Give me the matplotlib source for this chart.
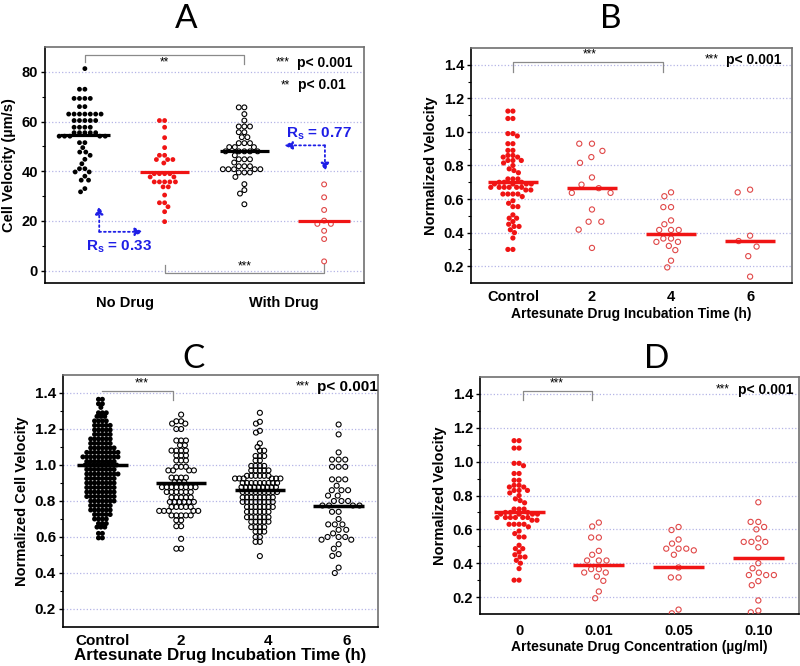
import numpy as np
import matplotlib
matplotlib.use('Agg')
import matplotlib.pyplot as plt

plt.rcParams['font.family'] = ['Liberation Sans', 'DejaVu Sans']

# ---- data (levels = value of a row, counts = dots in that row) ----
# panel A: cell velocity (um/s)
a_nodrug_h_lv = [81.3, 73.0, 69.3, 66.0, 63.0, 60.4, 57.7, 55.5, 54.1, 51.5, 49.5, 47.7,
                 46.4, 44.8, 43.0, 41.0, 39.7, 38.0, 36.4, 33.0, 31.7]
a_nodrug_h_ct = [1, 2, 4, 2, 7, 5, 4, 5, 5, 2, 1, 2, 1, 1, 1, 2, 2, 1, 2, 1, 1]
a_nodrug_i_lv = [60.4, 57.7, 53.5, 49.5, 46.4, 44.7, 43.3, 39.0, 37.7, 35.7, 33.7, 30.4,
                 27.3, 25.7, 23.7, 19.7]
a_nodrug_i_ct = [2, 1, 1, 1, 2, 3, 1, 4, 2, 5, 2, 1, 2, 1, 1, 1]
a_drug_h_lv = [65.7, 63.0, 60.4, 58.0, 55.7, 53.7, 51.3, 49.7, 48.0, 46.4, 44.8, 43.5,
               42.0, 40.8, 39.5, 37.7, 34.8, 32.4, 31.0, 26.7]
a_drug_h_ct = [2, 1, 1, 3, 2, 2, 3, 3, 5, 1, 3, 1, 3, 5, 3, 1, 1, 1, 1, 1]
a_drug_i_lv = [34.7, 29.5, 24.4, 20.1, 18.8, 16.0, 12.7, 3.7]
a_drug_i_ct = [1, 1, 1, 1, 2, 1, 1, 1]
a_medians = [54.6, 39.8, 48.0, 20.0]

# control group shared by panels B and D (normalized velocity)
ctrl_lv = [1.124, 1.08, 0.99, 0.976, 0.93, 0.89, 0.86, 0.85, 0.83, 0.815, 0.80, 0.78,
           0.77, 0.757, 0.72, 0.70, 0.69, 0.67, 0.654, 0.63, 0.615, 0.59, 0.575, 0.555,
           0.506, 0.486, 0.466, 0.45, 0.437, 0.417, 0.40, 0.368, 0.30]
ctrl_ct = [2, 2, 2, 1, 2, 2, 2, 2, 3, 1, 1, 1, 1, 1, 3, 3, 4, 6, 2, 4, 1, 1, 1, 2, 1, 2,
           1, 1, 2, 1, 1, 1, 2]

# panel B: incubation time
b_labels = ['Control', '2', '4', '6']
b_2h_lv = [0.93, 0.887, 0.85, 0.816, 0.729, 0.686, 0.665, 0.637, 0.538, 0.465, 0.418, 0.309]
b_2h_ct = [2, 1, 1, 1, 1, 1, 1, 2, 1, 2, 1, 1]
b_4h_lv = [0.64, 0.617, 0.552, 0.473, 0.45, 0.416, 0.365, 0.345, 0.321, 0.296, 0.233, 0.193]
b_4h_ct = [1, 1, 2, 1, 1, 3, 2, 2, 1, 1, 1, 1]
b_6h_lv = [0.656, 0.64, 0.382, 0.35, 0.317, 0.26, 0.138]
b_6h_ct = [1, 1, 1, 1, 1, 1, 1]
b_medians = [0.70, 0.665, 0.39, 0.35]

# panel C: normalized cell velocity vs incubation time
c_labels = ['Control', '2', '4', '6']
c_ctrl_lv = [1.365, 1.34, 1.32, 1.29, 1.27, 1.245, 1.22, 1.195, 1.17, 1.145, 1.12, 1.095,
             1.07, 1.045, 1.02, 1.0, 0.975, 0.95, 0.925, 0.90, 0.875, 0.85, 0.825, 0.80,
             0.775, 0.75, 0.725, 0.70, 0.675, 0.655, 0.62, 0.595]
c_ctrl_ct = [2, 2, 1, 3, 3, 4, 5, 5, 5, 6, 6, 7, 9, 10, 8, 9, 8, 9, 8, 8, 8, 8, 8, 7,
             6, 6, 5, 4, 3, 3, 2, 2]
c_2h_lv = [1.28, 1.243, 1.23, 1.2, 1.136, 1.11, 1.08, 1.053, 1.025, 0.99, 0.97, 0.93,
           0.905, 0.877, 0.85, 0.82, 0.795, 0.767, 0.745, 0.72, 0.693, 0.66, 0.59, 0.535]
c_2h_ct = [1, 2, 2, 2, 3, 2, 4, 3, 3, 3, 4, 4, 3, 8, 6, 5, 6, 5, 5, 5, 2, 2, 1, 2]
c_4h_lv = [1.29, 1.24, 1.23, 1.19, 1.18, 1.12, 1.10, 1.08, 1.05, 1.025, 0.995, 0.97, 0.94,
           0.925, 0.90, 0.877, 0.85, 0.82, 0.795, 0.767, 0.74, 0.71, 0.685, 0.655, 0.63,
           0.60, 0.573, 0.494]
c_4h_ct = [1, 1, 1, 1, 1, 1, 1, 2, 3, 2, 4, 5, 6, 6, 9, 9, 9, 8, 8, 7, 6, 6, 5, 4, 3,
           2, 2, 1]
c_6h_lv = [1.225, 1.17, 1.07, 1.03, 0.99, 0.92, 0.885, 0.86, 0.83, 0.80, 0.775, 0.74,
           0.70, 0.67, 0.64, 0.62, 0.60, 0.585, 0.56, 0.535, 0.505, 0.495, 0.43, 0.40]
c_6h_ct = [1, 1, 1, 3, 3, 3, 1, 3, 2, 3, 4, 2, 1, 3, 2, 1, 3, 2, 1, 1, 1, 1, 1, 1]
c_medians = [1.0, 0.90, 0.862, 0.775]

# panel D: drug concentration
d_labels = ['0', '0.01', '0.05', '0.10']
d_005_lv = [0.614, 0.596, 0.54, 0.516, 0.486, 0.476, 0.45, 0.375, 0.316, 0.126, 0.104]
d_005_ct = [1, 1, 1, 1, 3, 1, 1, 1, 2, 1, 1]
d_010_lv = [0.76, 0.644, 0.614, 0.60, 0.546, 0.526, 0.494, 0.40, 0.37, 0.344, 0.33,
            0.294, 0.27, 0.18, 0.12, 0.11]
d_010_ct = [1, 2, 1, 1, 1, 3, 1, 1, 1, 1, 3, 1, 1, 1, 1, 1]
d_medians = [0.70, 0.39, 0.375, 0.43]

RED = '#f01414'
RED_OPEN = '#e04848'
BLUE = '#1e1ee6'
GRID = '#b4b4e6'
BRK = '#8a8a8a'

fig = plt.figure(figsize=(8, 6.66), dpi=100)


def px_axes(l, t, r, b):
    return fig.add_axes([l / 800, 1 - b / 666, (r - l) / 800, (b - t) / 666])


def style(ax, ylim, major, minor, fs=10.5):
    ax.set_xlim(0.5, 4.5)
    ax.set_ylim(*ylim)
    ax.set_yticks(major)
    ax.set_yticks(minor, minor=True)
    ax.yaxis.grid(True, color=GRID, ls=':', lw=0.9)
    ax.set_axisbelow(True)
    ax.tick_params(axis='y', which='major', length=3, width=1, pad=2, labelsize=fs)
    ax.tick_params(axis='y', which='minor', length=2, width=0.8)
    ax.tick_params(axis='x', length=0, labelsize=fs)
    for lab in ax.get_yticklabels():
        lab.set_fontweight('bold')
    for s in ['left', 'bottom']:
        ax.spines[s].set_color('black')
        ax.spines[s].set_linewidth(1.2)
    for s in ['top', 'right']:
        ax.spines[s].set_color('#707070')
        ax.spines[s].set_linewidth(1.2)


def swarm(ax, xc, vals, d):
    # greedy beeswarm in pixel space
    pts = ax.transData.transform(np.column_stack([np.full(len(vals), xc), vals]))
    ys = pts[:, 1]
    offs = np.zeros(len(vals))
    placed = []
    for i in np.argsort(-ys, kind='stable'):
        y = ys[i]
        near = [(px, py) for px, py in placed if abs(py - y) < d]
        cands = [0.0]
        for px, py in near:
            dx = np.sqrt(d ** 2 - (py - y) ** 2)
            cands += [px + dx, px - dx]
        cands.sort(key=lambda c: (round(abs(c), 6), c))
        for c in cands:
            if all((c - px) ** 2 + (y - py) ** 2 >= d ** 2 - 1e-6 for px, py in near):
                offs[i] = c
                break
        placed.append((offs[i], y))
    back = ax.transData.inverted().transform(np.column_stack([pts[:, 0] + offs, ys]))
    return back[:, 0]


def group(ax, xc, lv, ct, d, color, filled, med, s=12, half=0.31, mlw=2.3):
    vals = np.repeat(lv, ct)
    xs = swarm(ax, xc, vals, d)
    if filled:
        ax.scatter(xs, vals, s=s, color=color, edgecolors='none', zorder=3)
        mcol = color
    else:
        ax.scatter(xs, vals, s=s, facecolors='none', edgecolors=color, linewidths=0.8, zorder=3)
        mcol = RED if color != 'black' else 'black'
    ax.plot([xc - half, xc + half], [med, med], color=mcol, lw=mlw,
            solid_capstyle='butt', zorder=4)


def bracket(ax, xs, ys, label, lx, ly):
    ax.plot(xs, ys, color=BRK, lw=0.9, zorder=2)
    ax.text(lx, ly, label, ha='center', va='center', fontsize=8.5)


def pnote(ax, xs, xp, y, stars, txt, fs=10):
    ax.text(xs, y, stars, ha='center', va='center', fontsize=8.5)
    ax.text(xp, y, txt, ha='left', va='center', fontsize=fs, fontweight='bold')


# ---------------- panel A ----------------
axA = px_axes(45, 47, 364, 283)
style(axA, (-5, 90), [0, 20, 40, 60, 80], [10, 30, 50, 70])
axA.set_xticks([1.5, 3.5])
axA.set_xticklabels(['No Drug', 'With Drug'], fontweight='bold')
axA.tick_params(axis='x', pad=9)
axA.set_ylabel('Cell Velocity (\u00b5m/s)', fontsize=10.5, fontweight='bold', labelpad=4)
group(axA, 1, a_nodrug_h_lv, a_nodrug_h_ct, 5.4, 'black', True, a_medians[0])
group(axA, 2, a_nodrug_i_lv, a_nodrug_i_ct, 5.2, RED, True, a_medians[1])
group(axA, 3, a_drug_h_lv, a_drug_h_ct, 5.6, 'black', False, a_medians[2])
group(axA, 4, a_drug_i_lv, a_drug_i_ct, 7.5, RED_OPEN, False, a_medians[3], half=0.33)
bracket(axA, [1, 1, 3, 3], [84, 86.8, 86.8, 83.2], '**', 2, 83.6)
bracket(axA, [2, 2, 4, 4], [2.4, -0.9, -0.9, 2.8], '***', 3, 1.6)
pnote(axA, 3.48, 3.66, 83.6, '***', 'p< 0.001')
pnote(axA, 3.52, 3.67, 74.6, '**', 'p< 0.01')
# blue correlation arrows
arw = dict(arrowstyle='-|>', color=BLUE, lw=1.3, ls=':', mutation_scale=12,
           shrinkA=0, shrinkB=0)
axA.annotate('', xy=(1.18, 26), xytext=(1.18, 15.6), arrowprops=arw)
axA.annotate('', xy=(1.73, 15.6), xytext=(1.18, 15.6), arrowprops=arw)
axA.annotate('', xy=(3.5, 50.4), xytext=(4.01, 50.4), arrowprops=arw)
axA.annotate('', xy=(4.01, 40), xytext=(4.01, 50.4), arrowprops=arw)
axA.text(1.43, 9.6, r'R$_\mathregular{s}$ = 0.33', color=BLUE, fontsize=11,
         fontweight='bold', ha='center', va='center')
axA.text(3.93, 55.2, r'R$_\mathregular{s}$ = 0.77', color=BLUE, fontsize=11,
         fontweight='bold', ha='center', va='center')

# ---------------- panel B ----------------
axB = px_axes(471, 48, 792, 283)
style(axB, (0.1, 1.5), [0.2, 0.4, 0.6, 0.8, 1.0, 1.2, 1.4], np.arange(0.3, 1.5, 0.2))
axB.set_xlim(0.47, 4.53)
axB.set_xticks([1, 2, 3, 4])
axB.set_xticklabels(b_labels, fontweight='bold')
axB.tick_params(axis='x', pad=5)
axB.set_ylabel('Normalized Velocity', fontsize=10.5, fontweight='bold', labelpad=4)
axB.set_xlabel('Artesunate Drug Incubation Time (h)', fontsize=10, fontweight='bold',
               labelpad=2)
group(axB, 1, ctrl_lv, ctrl_ct, 5.0, RED, True, b_medians[0], s=14, half=0.32, mlw=2.5)
group(axB, 2, b_2h_lv, b_2h_ct, 12.7, RED_OPEN, False, b_medians[1], s=14, half=0.32, mlw=2.5)
group(axB, 3, b_4h_lv, b_4h_ct, 7.7, RED_OPEN, False, b_medians[2], s=14, half=0.32, mlw=2.5)
group(axB, 4, b_6h_lv, b_6h_ct, 12.7, RED_OPEN, False, b_medians[3], s=14, half=0.32, mlw=2.5)
bracket(axB, [1, 1, 2.9, 2.9], [1.356, 1.414, 1.414, 1.356], '***', 1.97, 1.46)
pnote(axB, 3.51, 3.69, 1.43, '***', 'p< 0.001')

# ---------------- panel C ----------------
axC = px_axes(63, 375, 378, 627)
style(axC, (0.1, 1.5), [0.2, 0.4, 0.6, 0.8, 1.0, 1.2, 1.4], np.arange(0.3, 1.5, 0.2),
      fs=11)
axC.set_xticks([1, 2, 3.1, 4.1])
axC.set_xticklabels(c_labels, fontweight='bold')
axC.tick_params(axis='x', pad=5)
axC.set_ylabel('Normalized Cell Velocity', fontsize=10.5, fontweight='bold', labelpad=4)
axC.set_xlabel('Artesunate Drug Incubation Time (h)', fontsize=12.2, fontweight='bold',
               labelpad=0)
group(axC, 1, c_ctrl_lv, c_ctrl_ct, 3.9, 'black', True, c_medians[0], s=13, half=0.32, mlw=2.5)
group(axC, 2, c_2h_lv, c_2h_ct, 4.8, 'black', False, c_medians[1], s=13, half=0.32, mlw=2.5)
group(axC, 3, c_4h_lv, c_4h_ct, 4.3, 'black', False, c_medians[2], s=13, half=0.32, mlw=2.5)
group(axC, 4, c_6h_lv, c_6h_ct, 6.6, 'black', False, c_medians[3], s=13, half=0.32, mlw=2.5)
bracket(axC, [1, 1, 1.9, 1.9], [1.413, 1.413, 1.413, 1.363], '***', 1.5, 1.455)
pnote(axC, 3.54, 3.73, 1.435, '***', 'p< 0.001', fs=11)

# ---------------- panel D ----------------
axD = px_axes(480, 377, 799, 614)
style(axD, (0.1, 1.5), [0.2, 0.4, 0.6, 0.8, 1.0, 1.2, 1.4], np.arange(0.3, 1.5, 0.2))
axD.set_xlim(0.51, 4.51)
axD.set_xticks([1, 2, 3, 4])
axD.set_xticklabels(d_labels, fontweight='bold')
axD.tick_params(axis='x', pad=7)
axD.set_ylabel('Normalized Velocity', fontsize=10.5, fontweight='bold', labelpad=4)
axD.set_xlabel('Artesunate Drug Concentration (\u00b5g/ml)', fontsize=10,
               fontweight='bold', labelpad=2)
group(axD, 1, ctrl_lv, ctrl_ct, 5.0, RED, True, d_medians[0], s=14, half=0.32, mlw=2.5)
group(axD, 2, b_4h_lv, b_4h_ct, 7.7, RED_OPEN, False, d_medians[1], s=14, half=0.32, mlw=2.5)
group(axD, 3, d_005_lv, d_005_ct, 7.7, RED_OPEN, False, d_medians[2], s=14, half=0.32, mlw=2.5)
group(axD, 4, d_010_lv, d_010_ct, 7.7, RED_OPEN, False, d_medians[3], s=14, half=0.32, mlw=2.5)
bracket(axD, [1.05, 1.05, 1.92, 1.92], [1.366, 1.418, 1.418, 1.366], '***', 1.47, 1.46)
pnote(axD, 3.55, 3.75, 1.426, '***', 'p< 0.001')

# panel letters
for t, x, y in [('A', 186, 19), ('B', 611, 19), ('C', 193, 359), ('D', 657, 359)]:
    fig.text(x / 800, 1 - y / 666, t, ha='center', va='center', fontsize=24,
             family=['Lato', 'DejaVu Sans'])

fig.savefig('out.png', dpi=100)
